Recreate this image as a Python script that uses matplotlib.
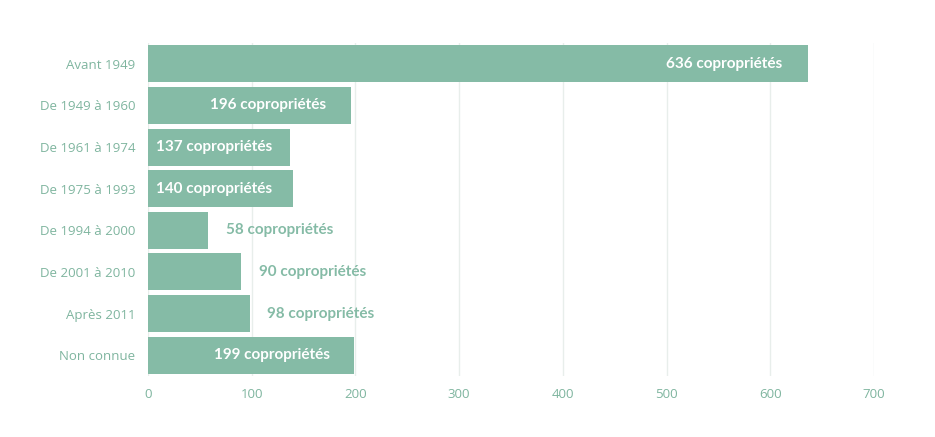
import matplotlib
matplotlib.use("Agg")
import matplotlib.pyplot as plt

categories = ["Avant 1949", "De 1949 à 1960", "De 1961 à 1974", "De 1975 à 1993",
              "De 1994 à 2000", "De 2001 à 2010", "Après 2011", "Non connue"]
values = [636, 196, 137, 140, 58, 90, 98, 199]
xticks = [0, 100, 200, 300, 400, 500, 600, 700]

green = "#85bba6"
tick_col = "#7fb59f"

fig = plt.figure(figsize=(9.35, 4.37), dpi=100)
ax = fig.add_axes([148/935, 1-376/437, (874-148)/935, (376-43)/437])
y = list(range(len(categories)))
ax.barh(y, values, height=0.89, color=green, zorder=2)
ax.set_ylim(len(categories)-0.5, -0.5)
ax.set_xlim(0, 700)
ax.set_xticks(xticks)
ax.set_yticks(y)
ax.set_yticklabels(categories)
ax.grid(axis="x", color="#e8eeeb", linewidth=1, zorder=0)
for s in ax.spines.values():
    s.set_visible(False)
ax.tick_params(length=0, colors=tick_col, labelsize=9.5, pad=9)
for lab in ax.get_xticklabels() + ax.get_yticklabels():
    lab.set_fontfamily("Open Sans")
    lab.set_color(tick_col)

for i, v in enumerate(values):
    txt = f"{v} copropriétés"
    if v >= 190:
        ax.text(v - 24, i, txt, ha="right", va="center", color="white",
                fontweight="bold", fontsize=11, family="Lato", zorder=3)
    elif v >= 120:
        ax.text(8, i, txt, ha="left", va="center", color="white",
                fontweight="bold", fontsize=11, family="Lato", zorder=3)
    else:
        ax.text(v + 17, i, txt, ha="left", va="center", color=green,
                fontweight="bold", fontsize=11, family="Lato", zorder=3)

fig.savefig("out.png", dpi=100)
